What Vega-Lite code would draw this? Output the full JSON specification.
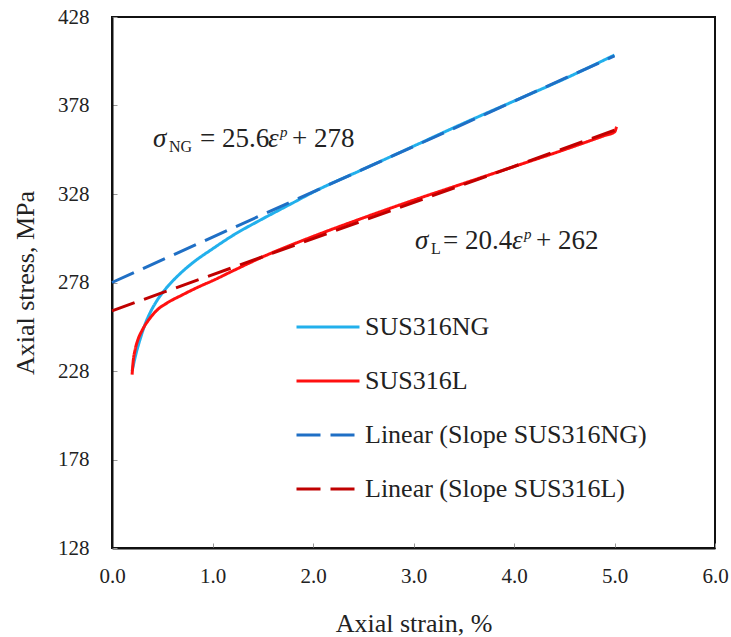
{
  "$schema": "https://vega.github.io/schema/vega-lite/v6.json",
  "width": 603,
  "height": 531,
  "autosize": {"type": "none"},
  "padding": {"left": 112, "top": 17, "right": 16, "bottom": 89},
  "background": "white",
  "config": {
    "font": "Liberation Serif",
    "view": {"stroke": "#111", "strokeWidth": 2},
    "text": {"font": "Liberation Serif", "align": "left", "baseline": "alphabetic", "color": "#222", "fontSize": 27},
    "axis": {
      "grid": false,
      "domainColor": "#111",
      "domainWidth": 2,
      "tickColor": "#999",
      "tickWidth": 1,
      "tickSize": -5,
      "labelFlush": false,
      "labelFont": "Liberation Serif",
      "labelFontSize": 21,
      "labelColor": "#222",
      "titleFont": "Liberation Serif",
      "titleFontSize": 26,
      "titleFontWeight": "normal",
      "titleColor": "#222"
    },
    "legend": {
      "orient": "none",
      "legendX": 183,
      "legendY": 277,
      "title": null,
      "symbolType": "stroke",
      "symbolSize": 3969,
      "symbolStrokeWidth": 3,
      "labelFont": "Liberation Serif",
      "labelFontSize": 26,
      "labelColor": "#222",
      "labelOffset": 4,
      "rowPadding": 8,
      "padding": 0,
      "labelLimit": 400
    }
  },
  "datasets": {
    "curves": [
      {"series": "SUS316NG", "strain": 0.2, "stress": 228},
      {"series": "SUS316NG", "strain": 0.24, "stress": 238},
      {"series": "SUS316NG", "strain": 0.28, "stress": 246},
      {"series": "SUS316NG", "strain": 0.32, "stress": 253},
      {"series": "SUS316NG", "strain": 0.38, "stress": 261},
      {"series": "SUS316NG", "strain": 0.45, "stress": 268},
      {"series": "SUS316NG", "strain": 0.55, "stress": 275.5},
      {"series": "SUS316NG", "strain": 0.65, "stress": 281.5},
      {"series": "SUS316NG", "strain": 0.8, "stress": 289},
      {"series": "SUS316NG", "strain": 1.0, "stress": 297},
      {"series": "SUS316NG", "strain": 1.2, "stress": 304.5},
      {"series": "SUS316NG", "strain": 1.5, "stress": 314},
      {"series": "SUS316NG", "strain": 1.8, "stress": 323},
      {"series": "SUS316NG", "strain": 2.0, "stress": 329},
      {"series": "SUS316NG", "strain": 2.5, "stress": 342},
      {"series": "SUS316NG", "strain": 3.0, "stress": 355},
      {"series": "SUS316NG", "strain": 3.5, "stress": 368},
      {"series": "SUS316NG", "strain": 4.0, "stress": 380.5},
      {"series": "SUS316NG", "strain": 4.5, "stress": 393},
      {"series": "SUS316NG", "strain": 5.0, "stress": 406.5},
      {"series": "SUS316L", "strain": 0.2, "stress": 226},
      {"series": "SUS316L", "strain": 0.21, "stress": 233},
      {"series": "SUS316L", "strain": 0.23, "stress": 240},
      {"series": "SUS316L", "strain": 0.26, "stress": 246},
      {"series": "SUS316L", "strain": 0.3, "stress": 251},
      {"series": "SUS316L", "strain": 0.38, "stress": 258},
      {"series": "SUS316L", "strain": 0.45, "stress": 262.5},
      {"series": "SUS316L", "strain": 0.55, "stress": 266.5},
      {"series": "SUS316L", "strain": 0.7, "stress": 271},
      {"series": "SUS316L", "strain": 0.88, "stress": 276},
      {"series": "SUS316L", "strain": 1.0, "stress": 279},
      {"series": "SUS316L", "strain": 1.2, "stress": 284.5},
      {"series": "SUS316L", "strain": 1.5, "stress": 292.5},
      {"series": "SUS316L", "strain": 2.0, "stress": 304},
      {"series": "SUS316L", "strain": 2.5, "stress": 314.5},
      {"series": "SUS316L", "strain": 3.0, "stress": 324.5},
      {"series": "SUS316L", "strain": 3.5, "stress": 334},
      {"series": "SUS316L", "strain": 4.0, "stress": 343.5},
      {"series": "SUS316L", "strain": 4.5, "stress": 353},
      {"series": "SUS316L", "strain": 4.9, "stress": 361},
      {"series": "SUS316L", "strain": 5.0, "stress": 363},
      {"series": "SUS316L", "strain": 5.02, "stress": 366},
      {"series": "Linear (Slope SUS316NG)", "strain": 0.0, "stress": 278},
      {"series": "Linear (Slope SUS316NG)", "strain": 5.0, "stress": 406},
      {"series": "Linear (Slope SUS316L)", "strain": 0.0, "stress": 262},
      {"series": "Linear (Slope SUS316L)", "strain": 5.0, "stress": 364}
    ],
    "annotations": [
      {"eq": "NG", "strain": 0.408, "stress": 354.6},
      {"eq": "L", "strain": 3.015, "stress": 296.9}
    ]
  },
  "layer": [
    {
      "data": {"name": "curves"},
      "transform": [{"filter": {"field": "series", "oneOf": ["SUS316NG", "SUS316L"]}}],
      "mark": {"type": "line", "strokeWidth": 3, "interpolate": "monotone"},
      "encoding": {
        "x": {
          "field": "strain", "type": "quantitative",
          "scale": {"domain": [0, 6], "nice": false, "zero": false},
          "axis": {"title": "Axial strain, %", "values": [0, 1, 2, 3, 4, 5, 6], "format": ".1f", "labelPadding": 22, "titlePadding": 24}
        },
        "y": {
          "field": "stress", "type": "quantitative",
          "scale": {"domain": [128, 428], "nice": false, "zero": false},
          "axis": {"title": "Axial stress, MPa", "values": [128, 178, 228, 278, 328, 378, 428], "labelPadding": 28, "titlePadding": 19}
        },
        "color": {
          "field": "series", "type": "nominal",
          "scale": {"domain": ["SUS316NG", "SUS316L", "Linear (Slope SUS316NG)", "Linear (Slope SUS316L)"], "range": ["#22B0EC", "#FF1010", "#1F6FC5", "#C00000"]}
        },
        "strokeDash": {
          "field": "series", "type": "nominal",
          "scale": {"domain": ["SUS316NG", "SUS316L", "Linear (Slope SUS316NG)", "Linear (Slope SUS316L)"], "range": [[1, 0], [1, 0], [24, 10], [24, 10]]}
        }
      }
    },
    {
      "data": {"name": "curves"},
      "transform": [{"filter": {"field": "series", "oneOf": ["Linear (Slope SUS316NG)", "Linear (Slope SUS316L)"]}}],
      "mark": {"type": "line", "strokeWidth": 3},
      "encoding": {
        "x": {"field": "strain", "type": "quantitative"},
        "y": {"field": "stress", "type": "quantitative"},
        "color": {"field": "series", "type": "nominal"},
        "strokeDash": {"field": "series", "type": "nominal"}
      }
    },
    {
      "data": {"name": "annotations"},
      "transform": [{"filter": "datum.eq == 'NG'"}],
      "encoding": {
        "x": {"field": "strain", "type": "quantitative"},
        "y": {"field": "stress", "type": "quantitative"}
      },
      "layer": [
        {"mark": {"type": "text", "text": "σ", "fontStyle": "italic", "dx": 0}},
        {"mark": {"type": "text", "text": "NG", "fontSize": 16, "dx": 16, "dy": 5}},
        {"mark": {"type": "text", "text": "= 25.6", "dx": 47}},
        {"mark": {"type": "text", "text": "ε", "fontStyle": "italic", "dx": 115}},
        {"mark": {"type": "text", "text": "p", "fontStyle": "italic", "fontSize": 15, "dx": 127, "dy": -10}},
        {"mark": {"type": "text", "text": "+ 278", "dx": 139}}
      ]
    },
    {
      "data": {"name": "annotations"},
      "transform": [{"filter": "datum.eq == 'L'"}],
      "encoding": {
        "x": {"field": "strain", "type": "quantitative"},
        "y": {"field": "stress", "type": "quantitative"}
      },
      "layer": [
        {"mark": {"type": "text", "text": "σ", "fontStyle": "italic", "dx": 0}},
        {"mark": {"type": "text", "text": "L", "fontSize": 16, "dx": 16, "dy": 5}},
        {"mark": {"type": "text", "text": "= 20.4", "dx": 28}},
        {"mark": {"type": "text", "text": "ε", "fontStyle": "italic", "dx": 97}},
        {"mark": {"type": "text", "text": "p", "fontStyle": "italic", "fontSize": 15, "dx": 109, "dy": -10}},
        {"mark": {"type": "text", "text": "+ 262", "dx": 121}}
      ]
    }
  ]
}
